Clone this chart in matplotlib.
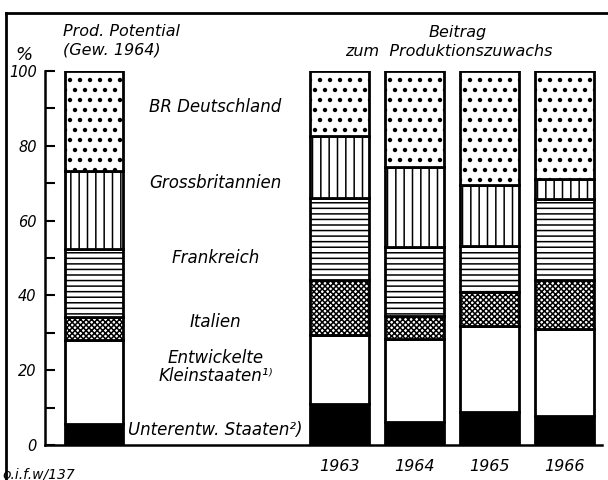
import matplotlib
matplotlib.use('Agg')
import matplotlib.pyplot as plt
import matplotlib.hatch as mhatch
from matplotlib.lines import Line2D
import numpy as np

# ---------------- data ----------------
columns = ['Prod. Potential', '1963', '1964', '1965', '1966']
year_labels = ['1963', '1964', '1965', '1966']
segment_names = ['Unterentw. Staaten', 'Entwickelte Kleinstaaten', 'Italien',
                 'Frankreich', 'Grossbritannien', 'BR Deutschland']
unterentw    = [5.6, 11.0, 6.2, 8.7, 7.8]
kleinstaaten = [22.4, 18.5, 22.2, 23.0, 23.2]
italien      = [6.3, 14.6, 6.0, 9.3, 13.1]
frankreich   = [18.1, 21.9, 18.6, 12.3, 21.8]
grossbrit    = [20.8, 16.7, 21.3, 16.1, 5.3]
brd          = [26.8, 17.3, 25.7, 30.6, 28.8]
series = [unterentw, kleinstaaten, italien, frankreich, grossbrit, brd]

seg_labels = ['Unterentw. Staaten²)', 'Entwickelte\nKleinstaaten¹⁾', 'Italien',
              'Frankreich', 'Grossbritannien', 'BR Deutschland']
seg_label_y = [4.0, 20.8, 33.0, 50.0, 70.0, 90.4]

# ---------------- style ----------------
# sparser, slightly smaller dot texture
def _dots_init(self, hatch, density):
    self.num_rows = hatch.count('.') * 10
    mhatch.Circles.__init__(self, hatch, density)
mhatch.SmallFilledCircles.__init__ = _dots_init
mhatch.SmallFilledCircles.size = 0.14

plt.rcParams['hatch.linewidth'] = 1.1
plt.rcParams['font.family'] = ['DejaVu Sans']
plt.rcParams['font.style'] = 'italic'

faces = ['black', 'white', 'white', 'white', 'white', 'white']
hatches = [None, None, 'xxxxxx', '---', '||', '.']

xpos = np.array([0, 3.27, 4.27, 5.27, 6.27])
width = 0.78

fig = plt.figure(figsize=(6.08, 4.80), dpi=100)
ax = fig.add_axes([45/608, 35/480, 557/608, 374/480])

bottom = np.zeros(len(columns))
for vals, fc, h in zip(series, faces, hatches):
    vals = np.array(vals)
    ax.bar(xpos, vals, bottom=bottom, width=width, facecolor=fc,
           hatch=h, edgecolor='black', linewidth=2.0, zorder=2)
    bottom += vals

ax.set_xlim(-0.653, 6.773)
ax.set_ylim(0, 100)

for s in ['top', 'right']:
    ax.spines[s].set_visible(False)
ax.spines['left'].set_linewidth(1.8)
ax.spines['bottom'].set_linewidth(1.8)

ax.set_yticks([0, 20, 40, 60, 80, 100])
ax.set_yticks([10, 30, 50, 70, 90], minor=True)
ax.tick_params(axis='y', which='both', direction='in', length=7, width=1.5,
               pad=6, labelsize=10.5)
ax.set_xticks(xpos[1:])
ax.set_xticklabels(year_labels, fontsize=11.5)
ax.tick_params(axis='x', length=0, pad=10)

for lab, y in zip(seg_labels, seg_label_y):
    ax.text(1.62, y, lab, ha='center', va='center', fontsize=12,
            linespacing=1.0)

fig.text(15/608, 1 - 55/480, '%', fontsize=13, ha='left', va='center')
fig.text(63/608, 1 - 31/480, 'Prod. Potential', fontsize=11.5, ha='left', va='center')
fig.text(63/608, 1 - 50/480, '(Gew. 1964)', fontsize=11.5, ha='left', va='center')
fig.text(458/608, 1 - 32/480, 'Beitrag', fontsize=11.5, ha='center', va='center')
fig.text(449/608, 1 - 51/480, 'zum  Produktionszuwachs', fontsize=11.5,
         ha='center', va='center')
fig.text(2/608, 1 - 474/480, 'o.i.f.w/137', fontsize=10, ha='left', va='center')

fig.add_artist(Line2D([6/608, 1.0], [1 - 13/480, 1 - 13/480],
                      transform=fig.transFigure, color='black', lw=2))
fig.add_artist(Line2D([6/608, 6/608], [0, 1 - 13/480],
                      transform=fig.transFigure, color='black', lw=2))

fig.savefig('out.png', dpi=100)
